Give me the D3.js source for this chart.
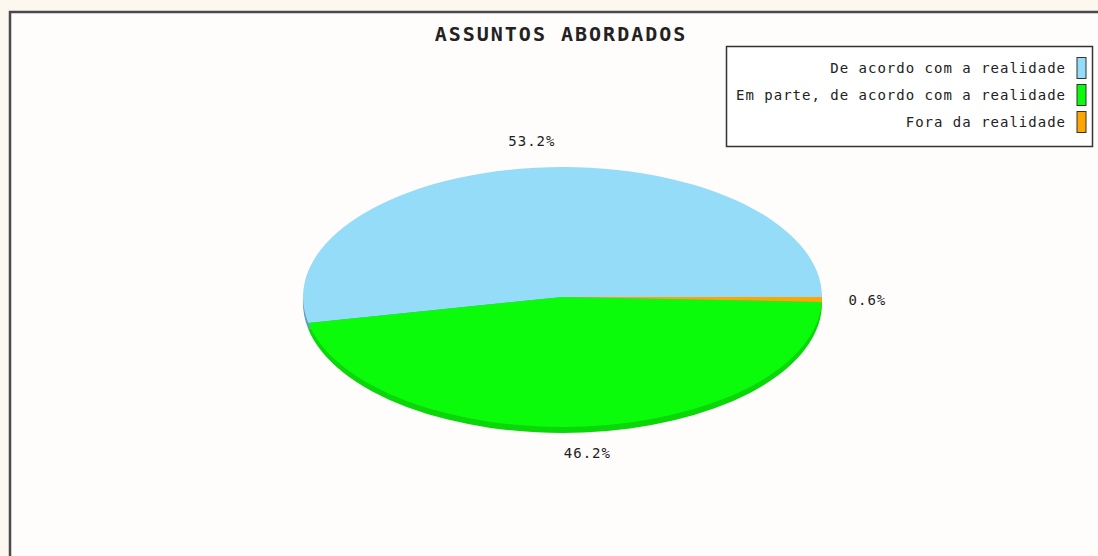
<!DOCTYPE html>
<html>
<head>
<meta charset="utf-8">
<script src="https://cdn.jsdelivr.net/npm/d3@7"></script>
<style>
  body { margin: 0; background: #fcf8ef; }
  text { font-family: "DejaVu Sans Mono", monospace; fill: #222; }
</style>
</head>
<body>
<div id="chart"></div>
<script>
var categories = ["De acordo com a realidade", "Em parte, de acordo com a realidade", "Fora da realidade"];
var values = [53.2, 46.2, 0.6];
var chartTitle = "ASSUNTOS ABORDADOS";

var svgWidth = 1098, svgHeight = 556;
var cx = 562.5, cy = 297, rx = 259.5, ry = 130, depth = 6;

var color = d3.scaleOrdinal().domain(categories).range(["#95dcf8", "#0bfc0b", "#ffa500"]);
var sideColor = d3.scaleOrdinal().domain(categories).range(["#5d9cbb", "#0ad60a", "#cc8400"]);

var svg = d3.select("#chart").append("svg")
    .attr("width", svgWidth)
    .attr("height", svgHeight)
    .style("display", "block");

// frame
svg.append("rect")
    .attr("x", 10).attr("y", 12)
    .attr("width", svgWidth + 20).attr("height", svgHeight + 20)
    .attr("fill", "#fffcfc")
    .attr("stroke", "#4a4a4a")
    .attr("stroke-width", 2.5);

// title
svg.append("text")
    .attr("x", 561).attr("y", 34)
    .attr("text-anchor", "middle")
    .attr("dominant-baseline", "central")
    .style("font-size", "20px")
    .style("font-weight", "bold")
    .style("letter-spacing", "2px")
    .text(chartTitle);

// pie, counter-clockwise from 3 o'clock
var data = categories.map(function(c, i) { return {name: c, value: values[i]}; });
var pie = d3.pie().sort(null).value(d => d.value)
    .startAngle(Math.PI / 2).endAngle(Math.PI / 2 - 2 * Math.PI);
var arcs = pie(data);

var arc = d3.arc().innerRadius(0).outerRadius(100);
var labelArc = d3.arc().innerRadius(100).outerRadius(100);

var sideGroup = svg.append("g")
    .attr("transform", `translate(${cx}, ${cy + depth}) scale(${rx / 100}, ${ry / 100})`);
sideGroup.selectAll("path")
    .data(arcs)
    .enter()
    .append("path")
    .attr("d", arc)
    .attr("fill", d => sideColor(d.data.name));

var topGroup = svg.append("g")
    .attr("transform", `translate(${cx}, ${cy}) scale(${rx / 100}, ${ry / 100})`);
topGroup.selectAll("path")
    .data(arcs)
    .enter()
    .append("path")
    .attr("d", arc)
    .attr("fill", d => color(d.data.name));

// percent labels
var lrx = 305, lry = 157;
svg.append("g").selectAll("text")
    .data(arcs)
    .enter()
    .append("text")
    .attr("x", d => cx + labelArc.centroid(d)[0] * lrx / 100)
    .attr("y", d => cy + labelArc.centroid(d)[1] * lry / 100)
    .attr("text-anchor", "middle")
    .attr("dominant-baseline", "central")
    .style("font-size", "14px")
    .style("letter-spacing", "1px")
    .text(d => d.data.value.toFixed(1) + "%");

// legend
var legend = svg.append("g");
legend.append("rect")
    .attr("x", 726.5).attr("y", 46.5)
    .attr("width", 366).attr("height", 100)
    .attr("fill", "#ffffff")
    .attr("stroke", "#333")
    .attr("stroke-width", 1.5);

var rowY = d3.scalePoint().domain(categories).range([67.5, 121.5]);

legend.selectAll("text")
    .data(categories)
    .enter()
    .append("text")
    .attr("x", 1066)
    .attr("y", d => rowY(d))
    .attr("text-anchor", "end")
    .attr("dominant-baseline", "central")
    .style("font-size", "14px")
    .style("letter-spacing", "1px")
    .text(d => d);

legend.selectAll(".swatch")
    .data(categories)
    .enter()
    .append("rect")
    .attr("class", "swatch")
    .attr("x", 1077).attr("y", d => rowY(d) - 10)
    .attr("width", 9).attr("height", 21)
    .attr("fill", d => color(d))
    .attr("stroke", "#333")
    .attr("stroke-width", 1);
</script>
</body>
</html>
